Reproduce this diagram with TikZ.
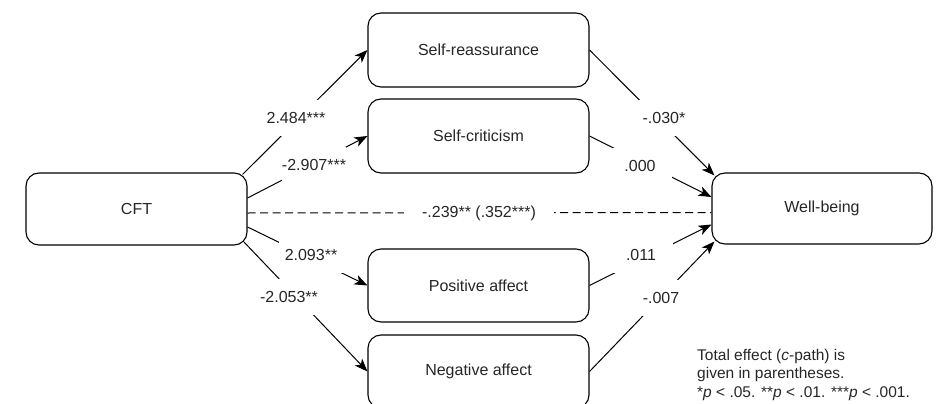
\documentclass[tikz,border=0pt]{standalone}
\usepackage{fontspec}
\setmainfont{Liberation Sans}
\usetikzlibrary{arrows.meta}
\begin{document}
\begin{tikzpicture}[x=1pt,y=-1pt,
  box/.style={draw, line width=1.1pt, rounded corners=13pt, minimum width=221pt, minimum height=73pt, inner sep=0pt, text=black!85, font=\fontsize{16}{18}\selectfont},
  lbl/.style={fill=white, inner sep=0pt, minimum width=64pt, minimum height=36pt, text=black!85, font=\fontsize{16}{18}\selectfont},
  arr/.style={line width=1pt, -{Stealth[length=13pt,width=10pt,inset=3.5pt]}},
  dashline/.style={line width=1pt, dash pattern=on 8pt off 4.5pt}]
\useasboundingbox (0,0) rectangle (940,404);
\node[box, minimum height=72pt] (cft) at (136.5,209) {CFT};
\node[box, minimum height=74pt] (sr) at (478.5,50) {Self-reassurance};
\node[box, minimum height=74pt] (sc) at (478.5,136) {Self-criticism};
\node[box] (pa) at (478.5,285.5) {Positive affect};
\node[box] (na) at (478.5,371.5) {Negative affect};
\node[box, minimum width=220pt, minimum height=71pt] (wb) at (822,208.5) {Well-being};
% left connectors
\draw[arr] ([xshift=-5pt,yshift=-2pt]cft.north east) -- (sr.west);
\draw[arr] ([yshift=11pt]cft.east) -- (sc.west);
\draw[arr] ([yshift=-18pt]cft.east) -- (pa.west);
\draw[arr] ([xshift=-4pt,yshift=4pt]cft.south east) -- (na.west);
\draw[dashline] ([yshift=-4pt]cft.east) -- ([yshift=-4pt]wb.west);
% right connectors
\draw[arr] (sr.east) -- ([xshift=3pt,yshift=-3pt]wb.north west);
\draw[arr] (sc.east) -- ([yshift=11.5pt]wb.west);
\draw[arr] (pa.east) -- ([yshift=-16pt]wb.west);
\draw[arr] (na.east) -- ([xshift=3pt,yshift=3pt]wb.south west);
% labels
\node[lbl] (l1) at (296,118) {2.484***};
\node[lbl] (l2) at (314,165) {-2.907***};
\node[lbl] (l3) at (311,255) {2.093**};
\node[lbl] (l4) at (289,297) {-2.053**};
\node[lbl] (l5) at (664,118) {-.030*};
\node[lbl] (l6) at (640,166) {.000};
\node[lbl] (l7) at (641,255) {.011};
\node[lbl] (l8) at (661,298) {-.007};
\node[lbl, inner xsep=18pt, minimum height=20pt] (l9) at (479,213) {-.239** (.352***)};
% note
\node[anchor=base west, inner sep=0pt, align=left, text=black!85, font=\fontsize{15.5}{18.5}\selectfont] (note) at (697,397)
  {Total effect (\textit{c}-path) is\\given in parentheses.\\{}*\textit{p} < .05. **\textit{p} < .01. ***\textit{p} < .001.};
\end{tikzpicture}
\end{document}
